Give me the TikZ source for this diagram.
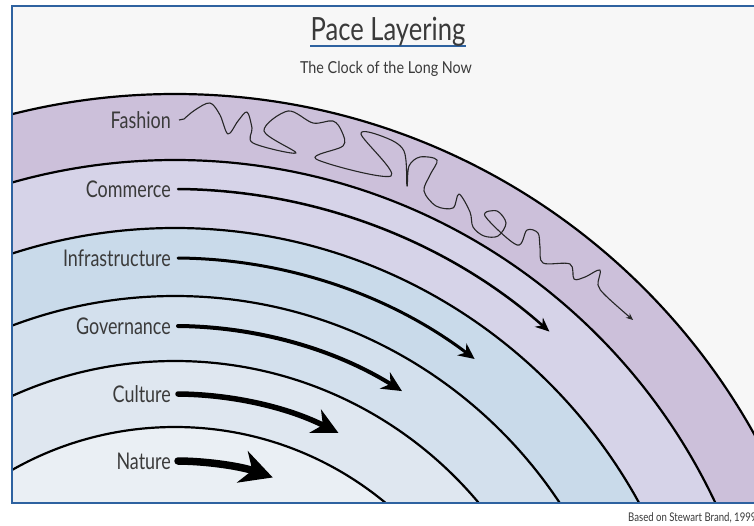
\documentclass[tikz,border=0pt]{standalone}
\usepackage{fontspec}
\setmainfont{Lato}
\newfontfamily\flab{Lato}[FakeStretch=0.78]
\newfontfamily\ftit{Lato}[FakeStretch=0.80]
\newfontfamily\fsub{Lato}[FakeStretch=0.87]
\usetikzlibrary{arrows.meta}
\definecolor{cFash}{HTML}{CCC0DA}
\definecolor{cComm}{HTML}{D6D3E8}
\definecolor{cInfr}{HTML}{C9DAEA}
\definecolor{cGov}{HTML}{D3E0ED}
\definecolor{cCult}{HTML}{DFE7F0}
\definecolor{cNat}{HTML}{EAEFF4}
\definecolor{bgin}{HTML}{F7F7F7}
\definecolor{frameblue}{HTML}{2E62A0}
\definecolor{txt}{HTML}{3A3A3A}
\tikzset{
  lab/.style={anchor=east, inner sep=0pt, text=txt, font=\flab\fontsize{23}{23}\selectfont},
  ring/.style={draw=black, line width=2.2pt},
  ln/.style={draw=black, line cap=round},
  sq/.style={draw=black!85, line width=1.1pt, line join=round}
}
\begin{document}
\begin{tikzpicture}[x=1pt,y=-1pt]
\useasboundingbox (0,0) rectangle (754,525);
\fill[white] (0,0) rectangle (754,525);
\fill[bgin] (12,6) rectangle (760,503);
\coordinate (C) at (175,757);
\begin{scope}
  \clip (12,6) rectangle (760,503);
  \fill[cFash, ring] (C) circle[radius=663];
  \fill[cComm, ring] (C) circle[radius=597];
  \fill[cInfr, ring] (C) circle[radius=529];
  \fill[cGov, ring] (C) circle[radius=461];
  \fill[cCult, ring] (C) circle[radius=396];
  \fill[cNat, ring] (C) circle[radius=330];
\end{scope}
\draw[frameblue, line width=2pt] (12,6) rectangle (760,503);

% title
\draw[frameblue, line width=2.6pt] (310,46) -- (466,46);
\node[inner sep=0pt, text=txt, font=\ftit\fontsize{32}{32}\selectfont] (title) at (388,32) {Pace Layering};
\node[inner sep=0pt, text=txt, font=\fsub\fontsize{16.5}{16.5}\selectfont] (sub) at (386,69) {The Clock of the Long Now};
\node[anchor=base west, inner sep=0pt, text=txt, font=\ftit\fontsize{12}{12}\selectfont] (src) at (628,521) {Based on Stewart Brand, 1999};

% labels
\node[lab] (fashion) at (171,120) {Fashion};
\node[lab] (commerce) at (171,189) {Commerce};
\node[lab] (infra) at (171,258) {Infrastructure};
\node[lab] (gov) at (171,326) {Governance};
\node[lab] (culture) at (171,394) {Culture};
\node[lab] (nature) at (171,461) {Nature};

% pace arrows
\draw[ln, line width=2.5pt, -{Stealth[length=14pt,width=12pt]}] ([xshift=7pt]commerce.east) arc[start angle=-89.5, end angle=-48.5, radius=568];
\draw[ln, line width=3pt, -{Stealth[length=16pt,width=15pt]}] ([xshift=7pt]infra.east) arc[start angle=-89.5, end angle=-52.9, radius=499];
\draw[ln, line width=4pt, -{Stealth[length=20pt,width=19pt]}] ([xshift=7pt]gov.east) arc[start angle=-89.5, end angle=-58.1, radius=431];
\draw[ln, line width=5.5pt, -{Stealth[length=26pt,width=26pt]}] ([xshift=7pt]culture.east) arc[start angle=-89.5, end angle=-63.2, radius=363];
\draw[ln, line width=7.5pt, -{Stealth[length=32pt,width=33pt]}] ([xshift=7pt]nature.east) arc[start angle=-89.5, end angle=-70.8, radius=296];

% fashion squiggle
\draw[sq, -{Stealth[length=7pt,width=6pt]}] ([xshift=8pt]fashion.east) -- plot[smooth, tension=0.55] coordinates {
 (184,119) (195,110) (210,103) (220,115) (228,134) (238,121) (247,112) (252,128) (253,143)
 (296,153) (264,131) (288,111) (313,123) (333,121) (342,132) (343,146) (316,159)
 (391,176) (361,134) (384,137) (404,151) (407,186)
 (409,166) (420,157) (437,160) (430,175) (424,191) (436,206) (453,208) (459,194)
 (470,212) (473,227) (484,236) (498,236) (506,223) (497,211) (485,216)
 (517,245) (527,230) (538,233) (540,247) (543,263) (570,264) (574,279) (585,277) (600,270)
 (598,285) (606,296) (633,320)};
\end{tikzpicture}
\end{document}
